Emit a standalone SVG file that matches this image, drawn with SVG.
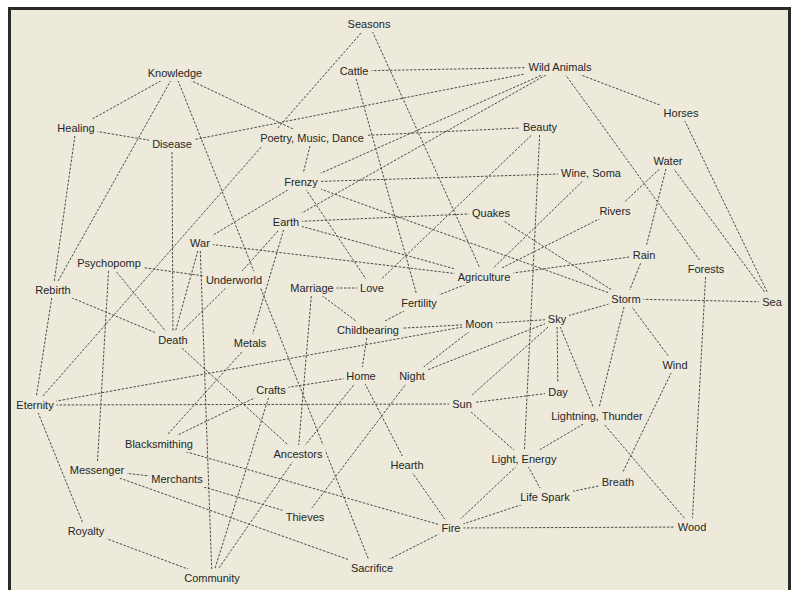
<svg xmlns="http://www.w3.org/2000/svg" width="798" height="590" viewBox="0 0 798 590">
<style>
.e line{stroke:#4a4a4a;stroke-width:1;stroke-dasharray:2.5 1.5;fill:none}
.n rect{fill:#EDEADB;stroke:none}
.n text{font-family:"Liberation Sans",Arial,sans-serif;font-size:11px;fill:#262626;text-anchor:middle}
</style>
<rect x="0" y="0" width="798" height="590" fill="#ffffff"/>
<rect x="9.5" y="8.5" width="780" height="600" fill="#EDEADB" stroke="#2a2a2a" stroke-width="3"/>
<g id="connectors" class="e">
<line x1="369" y1="24" x2="35" y2="405"/>
<line x1="369" y1="24" x2="484" y2="277"/>
<line x1="175" y1="73" x2="76" y2="128"/>
<line x1="175" y1="73" x2="53" y2="290"/>
<line x1="175" y1="73" x2="372" y2="568"/>
<line x1="175" y1="73" x2="312" y2="138"/>
<line x1="76" y1="128" x2="172" y2="144"/>
<line x1="76" y1="128" x2="53" y2="290"/>
<line x1="172" y1="144" x2="560" y2="67"/>
<line x1="172" y1="144" x2="173" y2="340"/>
<line x1="312" y1="138" x2="301" y2="182"/>
<line x1="312" y1="138" x2="540" y2="127"/>
<line x1="301" y1="182" x2="591" y2="173"/>
<line x1="301" y1="182" x2="560" y2="67"/>
<line x1="301" y1="182" x2="626" y2="299"/>
<line x1="301" y1="182" x2="372" y2="288"/>
<line x1="200" y1="243" x2="301" y2="182"/>
<line x1="286" y1="222" x2="560" y2="67"/>
<line x1="354" y1="71" x2="560" y2="67"/>
<line x1="354" y1="71" x2="419" y2="303"/>
<line x1="560" y1="67" x2="681" y2="113"/>
<line x1="560" y1="67" x2="706" y2="269"/>
<line x1="681" y1="113" x2="772" y2="302"/>
<line x1="668" y1="161" x2="772" y2="302"/>
<line x1="668" y1="161" x2="644" y2="255"/>
<line x1="668" y1="161" x2="615" y2="211"/>
<line x1="591" y1="173" x2="484" y2="277"/>
<line x1="615" y1="211" x2="484" y2="277"/>
<line x1="484" y1="277" x2="644" y2="255"/>
<line x1="286" y1="222" x2="484" y2="277"/>
<line x1="200" y1="243" x2="484" y2="277"/>
<line x1="484" y1="277" x2="419" y2="303"/>
<line x1="540" y1="127" x2="372" y2="288"/>
<line x1="540" y1="127" x2="524" y2="459"/>
<line x1="491" y1="213" x2="286" y2="222"/>
<line x1="491" y1="213" x2="626" y2="299"/>
<line x1="286" y1="222" x2="234" y2="280"/>
<line x1="286" y1="222" x2="250" y2="343"/>
<line x1="200" y1="243" x2="173" y2="340"/>
<line x1="200" y1="243" x2="212" y2="578"/>
<line x1="109" y1="263" x2="234" y2="280"/>
<line x1="109" y1="263" x2="173" y2="340"/>
<line x1="109" y1="263" x2="97" y2="470"/>
<line x1="53" y1="290" x2="173" y2="340"/>
<line x1="53" y1="290" x2="35" y2="405"/>
<line x1="234" y1="280" x2="173" y2="340"/>
<line x1="173" y1="340" x2="298" y2="454"/>
<line x1="250" y1="343" x2="159" y2="444"/>
<line x1="312" y1="288" x2="372" y2="288"/>
<line x1="312" y1="288" x2="368" y2="330"/>
<line x1="312" y1="288" x2="298" y2="454"/>
<line x1="419" y1="303" x2="368" y2="330"/>
<line x1="368" y1="330" x2="479" y2="324"/>
<line x1="368" y1="330" x2="361" y2="376"/>
<line x1="35" y1="405" x2="479" y2="324"/>
<line x1="479" y1="324" x2="557" y2="319"/>
<line x1="479" y1="324" x2="412" y2="376"/>
<line x1="557" y1="319" x2="412" y2="376"/>
<line x1="557" y1="319" x2="462" y2="404"/>
<line x1="557" y1="319" x2="558" y2="392"/>
<line x1="557" y1="319" x2="597" y2="416"/>
<line x1="557" y1="319" x2="626" y2="299"/>
<line x1="626" y1="299" x2="644" y2="255"/>
<line x1="626" y1="299" x2="772" y2="302"/>
<line x1="626" y1="299" x2="675" y2="365"/>
<line x1="626" y1="299" x2="597" y2="416"/>
<line x1="675" y1="365" x2="618" y2="482"/>
<line x1="706" y1="269" x2="692" y2="527"/>
<line x1="597" y1="416" x2="524" y2="459"/>
<line x1="597" y1="416" x2="692" y2="527"/>
<line x1="558" y1="392" x2="462" y2="404"/>
<line x1="462" y1="404" x2="35" y2="405"/>
<line x1="462" y1="404" x2="524" y2="459"/>
<line x1="412" y1="376" x2="305" y2="517"/>
<line x1="361" y1="376" x2="271" y2="390"/>
<line x1="361" y1="376" x2="298" y2="454"/>
<line x1="361" y1="376" x2="407" y2="465"/>
<line x1="271" y1="390" x2="212" y2="578"/>
<line x1="298" y1="454" x2="212" y2="578"/>
<line x1="271" y1="390" x2="159" y2="444"/>
<line x1="159" y1="444" x2="451" y2="528"/>
<line x1="97" y1="470" x2="177" y2="479"/>
<line x1="97" y1="470" x2="372" y2="568"/>
<line x1="177" y1="479" x2="305" y2="517"/>
<line x1="35" y1="405" x2="86" y2="531"/>
<line x1="86" y1="531" x2="212" y2="578"/>
<line x1="407" y1="465" x2="451" y2="528"/>
<line x1="451" y1="528" x2="372" y2="568"/>
<line x1="451" y1="528" x2="524" y2="459"/>
<line x1="451" y1="528" x2="545" y2="497"/>
<line x1="451" y1="528" x2="692" y2="527"/>
<line x1="524" y1="459" x2="545" y2="497"/>
<line x1="545" y1="497" x2="618" y2="482"/>
</g>
<g id="seasons" class="n"><rect x="344.5" y="15" width="49" height="17"/><text x="369" y="28">Seasons</text></g>
<g id="cattle" class="n"><rect x="336.5" y="62" width="35" height="17"/><text x="354" y="75">Cattle</text></g>
<g id="wild-animals" class="n"><rect x="525" y="58" width="70" height="17"/><text x="560" y="71">Wild Animals</text></g>
<g id="knowledge" class="n"><rect x="145" y="64" width="60" height="17"/><text x="175" y="77">Knowledge</text></g>
<g id="horses" class="n"><rect x="660.5" y="104" width="41" height="17"/><text x="681" y="117">Horses</text></g>
<g id="healing" class="n"><rect x="54.5" y="119" width="43" height="17"/><text x="76" y="132">Healing</text></g>
<g id="disease" class="n"><rect x="149" y="135" width="46" height="17"/><text x="172" y="148">Disease</text></g>
<g id="poetry" class="n"><rect x="256.5" y="129" width="111" height="17"/><text x="312" y="142">Poetry, Music, Dance</text></g>
<g id="beauty" class="n"><rect x="520" y="118" width="40" height="17"/><text x="540" y="131">Beauty</text></g>
<g id="water" class="n"><rect x="650.5" y="152" width="35" height="17"/><text x="668" y="165">Water</text></g>
<g id="wine-soma" class="n"><rect x="558" y="164" width="66" height="17"/><text x="591" y="177">Wine, Soma</text></g>
<g id="frenzy" class="n"><rect x="281" y="173" width="40" height="17"/><text x="301" y="186">Frenzy</text></g>
<g id="quakes" class="n"><rect x="469" y="204" width="44" height="17"/><text x="491" y="217">Quakes</text></g>
<g id="rivers" class="n"><rect x="596.5" y="202" width="37" height="17"/><text x="615" y="215">Rivers</text></g>
<g id="earth" class="n"><rect x="270" y="213" width="32" height="17"/><text x="286" y="226">Earth</text></g>
<g id="war" class="n"><rect x="187" y="234" width="26" height="17"/><text x="200" y="247">War</text></g>
<g id="psychopomp" class="n"><rect x="74" y="254" width="70" height="17"/><text x="109" y="267">Psychopomp</text></g>
<g id="underworld" class="n"><rect x="203" y="271" width="62" height="17"/><text x="234" y="284">Underworld</text></g>
<g id="agriculture" class="n"><rect x="454.5" y="268" width="59" height="17"/><text x="484" y="281">Agriculture</text></g>
<g id="rain" class="n"><rect x="629.5" y="246" width="29" height="17"/><text x="644" y="259">Rain</text></g>
<g id="forests" class="n"><rect x="684.5" y="260" width="43" height="17"/><text x="706" y="273">Forests</text></g>
<g id="marriage" class="n"><rect x="287.5" y="279" width="49" height="17"/><text x="312" y="292">Marriage</text></g>
<g id="love" class="n"><rect x="357" y="279" width="30" height="17"/><text x="372" y="292">Love</text></g>
<g id="fertility" class="n"><rect x="398.5" y="294" width="41" height="17"/><text x="419" y="307">Fertility</text></g>
<g id="rebirth" class="n"><rect x="32.5" y="281" width="41" height="17"/><text x="53" y="294">Rebirth</text></g>
<g id="storm" class="n"><rect x="608.5" y="290" width="35" height="17"/><text x="626" y="303">Storm</text></g>
<g id="sea" class="n"><rect x="759" y="293" width="26" height="17"/><text x="772" y="306">Sea</text></g>
<g id="childbearing" class="n"><rect x="334" y="321" width="68" height="17"/><text x="368" y="334">Childbearing</text></g>
<g id="moon" class="n"><rect x="462" y="315" width="34" height="17"/><text x="479" y="328">Moon</text></g>
<g id="sky" class="n"><rect x="545" y="310" width="24" height="17"/><text x="557" y="323">Sky</text></g>
<g id="death" class="n"><rect x="155.5" y="331" width="35" height="17"/><text x="173" y="344">Death</text></g>
<g id="metals" class="n"><rect x="231" y="334" width="38" height="17"/><text x="250" y="347">Metals</text></g>
<g id="wind" class="n"><rect x="659.5" y="356" width="31" height="17"/><text x="675" y="369">Wind</text></g>
<g id="home" class="n"><rect x="343.5" y="367" width="35" height="17"/><text x="361" y="380">Home</text></g>
<g id="night" class="n"><rect x="396" y="367" width="32" height="17"/><text x="412" y="380">Night</text></g>
<g id="crafts" class="n"><rect x="253.5" y="381" width="35" height="17"/><text x="271" y="394">Crafts</text></g>
<g id="day" class="n"><rect x="545" y="383" width="26" height="17"/><text x="558" y="396">Day</text></g>
<g id="eternity" class="n"><rect x="13.5" y="396" width="43" height="17"/><text x="35" y="409">Eternity</text></g>
<g id="sun" class="n"><rect x="449" y="395" width="26" height="17"/><text x="462" y="408">Sun</text></g>
<g id="lightning-thunder" class="n"><rect x="548" y="407" width="98" height="17"/><text x="597" y="420">Lightning, Thunder</text></g>
<g id="blacksmithing" class="n"><rect x="122" y="435" width="74" height="17"/><text x="159" y="448">Blacksmithing</text></g>
<g id="ancestors" class="n"><rect x="270.5" y="445" width="55" height="17"/><text x="298" y="458">Ancestors</text></g>
<g id="hearth" class="n"><rect x="387.5" y="456" width="39" height="17"/><text x="407" y="469">Hearth</text></g>
<g id="light-energy" class="n"><rect x="488.5" y="450" width="71" height="17"/><text x="524" y="463">Light, Energy</text></g>
<g id="messenger" class="n"><rect x="67" y="461" width="60" height="17"/><text x="97" y="474">Messenger</text></g>
<g id="merchants" class="n"><rect x="148.5" y="470" width="57" height="17"/><text x="177" y="483">Merchants</text></g>
<g id="breath" class="n"><rect x="599" y="473" width="38" height="17"/><text x="618" y="486">Breath</text></g>
<g id="life-spark" class="n"><rect x="517" y="488" width="56" height="17"/><text x="545" y="501">Life Spark</text></g>
<g id="thieves" class="n"><rect x="282.5" y="508" width="45" height="17"/><text x="305" y="521">Thieves</text></g>
<g id="fire" class="n"><rect x="438.5" y="519" width="25" height="17"/><text x="451" y="532">Fire</text></g>
<g id="wood" class="n"><rect x="674.5" y="518" width="35" height="17"/><text x="692" y="531">Wood</text></g>
<g id="royalty" class="n"><rect x="64.5" y="522" width="43" height="17"/><text x="86" y="535">Royalty</text></g>
<g id="sacrifice" class="n"><rect x="348" y="559" width="48" height="17"/><text x="372" y="572">Sacrifice</text></g>
<g id="community" class="n"><rect x="181" y="569" width="62" height="17"/><text x="212" y="582">Community</text></g>
</svg>
